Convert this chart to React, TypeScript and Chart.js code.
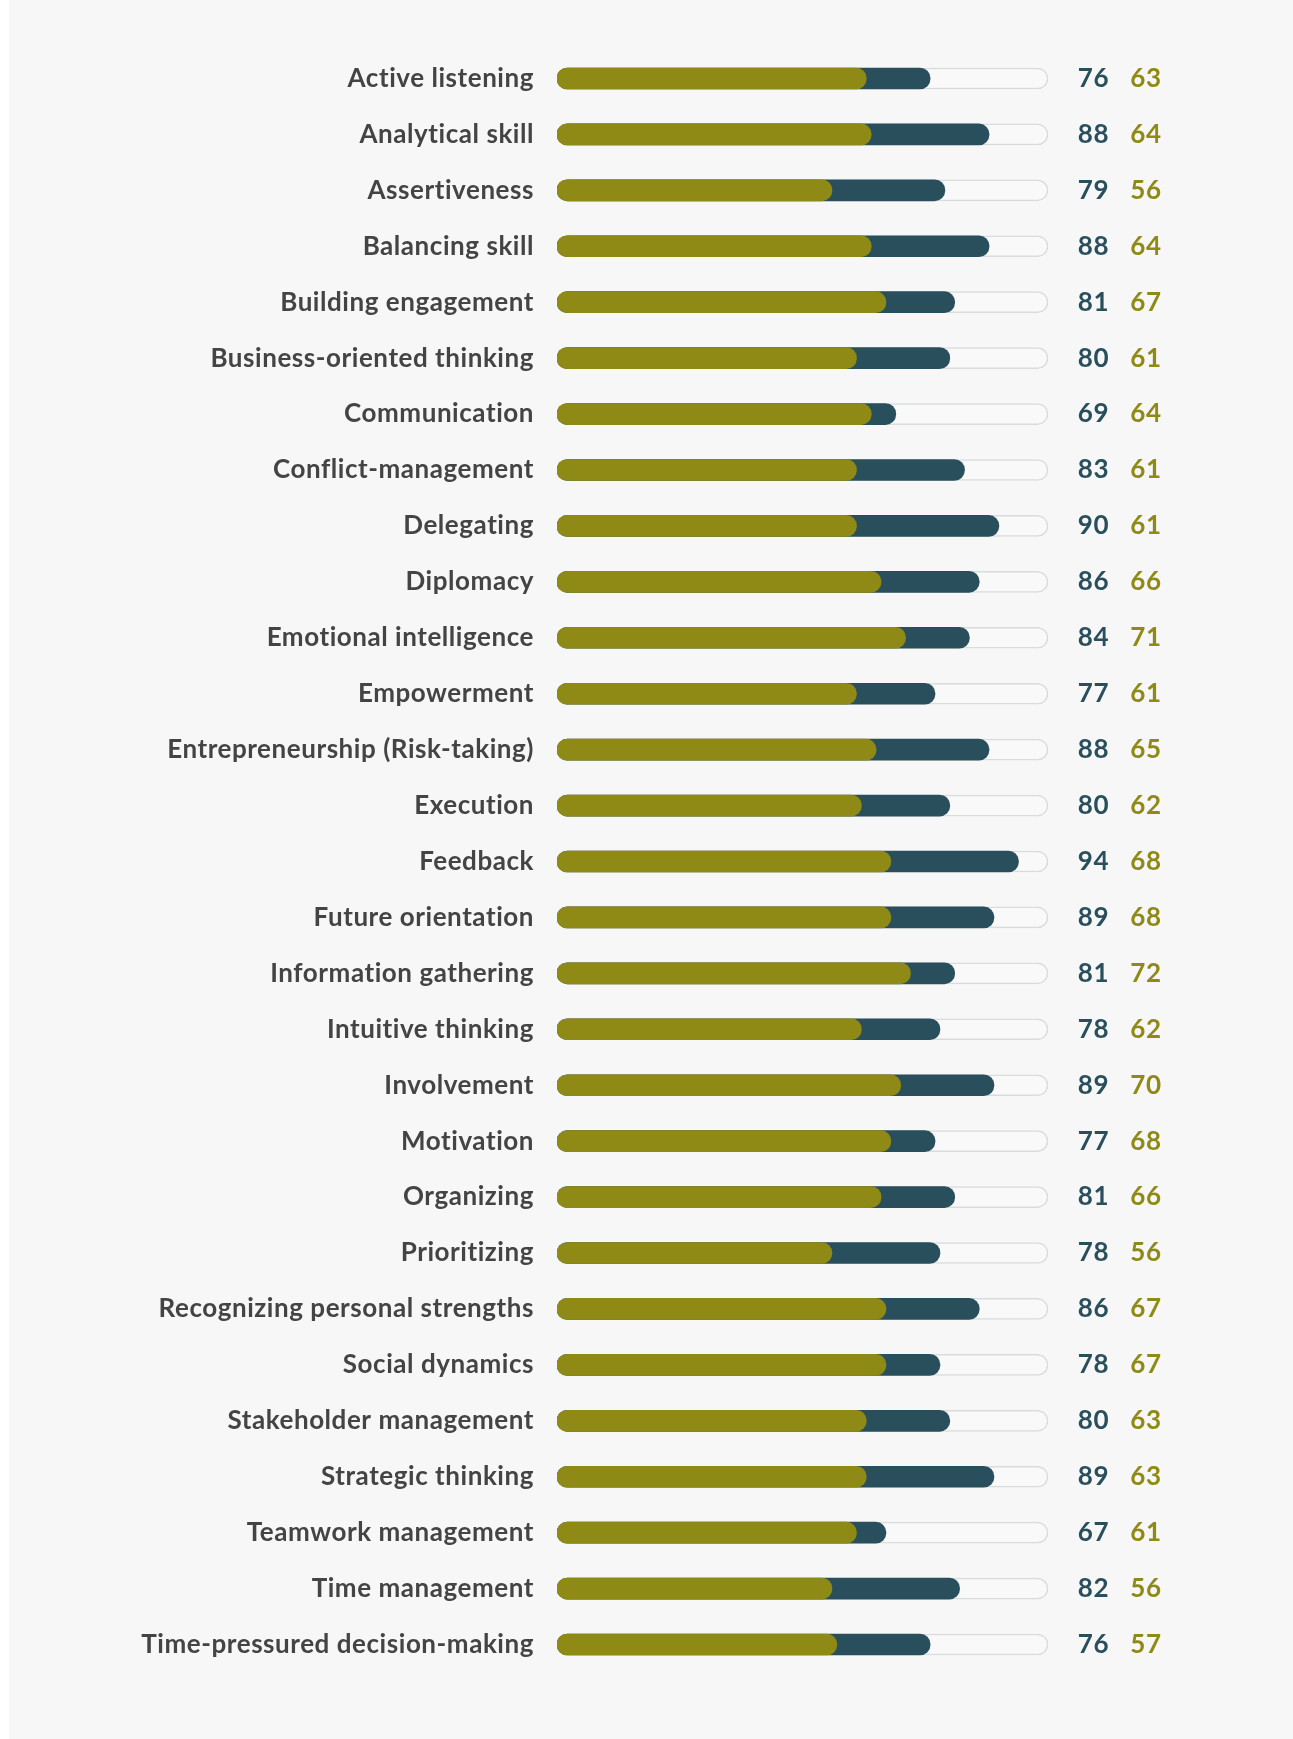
import React, { useEffect, useRef } from "react";
import { Chart, registerables } from "chart.js";

Chart.register(...registerables);

const categories: string[] = [
  "Active listening",
  "Analytical skill",
  "Assertiveness",
  "Balancing skill",
  "Building engagement",
  "Business-oriented thinking",
  "Communication",
  "Conflict-management",
  "Delegating",
  "Diplomacy",
  "Emotional intelligence",
  "Empowerment",
  "Entrepreneurship (Risk-taking)",
  "Execution",
  "Feedback",
  "Future orientation",
  "Information gathering",
  "Intuitive thinking",
  "Involvement",
  "Motivation",
  "Organizing",
  "Prioritizing",
  "Recognizing personal strengths",
  "Social dynamics",
  "Stakeholder management",
  "Strategic thinking",
  "Teamwork management",
  "Time management",
  "Time-pressured decision-making",
];

const darkValues: number[] = [
  76, 88, 79, 88, 81, 80, 69, 83, 90, 86, 84, 77, 88, 80, 94, 89, 81, 78, 89, 77, 81, 78, 86, 78, 80, 89, 67, 82, 76,
];

const greenValues: number[] = [
  63, 64, 56, 64, 67, 61, 64, 61, 61, 66, 71, 61, 65, 62, 68, 68, 72, 62, 70, 68, 66, 56, 67, 67, 63, 63, 61, 56, 57,
];

const MAX_VALUE = 100;
const trackValues: number[] = categories.map(() => MAX_VALUE);

const GREEN = "#8f8a15";
const DARK = "#2a4f5c";
const LABEL = "#444444";
const FONT = "Lato, 'Noto Sans', sans-serif";
const SPACING = "0.55px";

const letterSpacingPlugin = {
  id: "letterSpacing",
  beforeDraw(chart: any) {
    (chart.ctx as any).letterSpacing = SPACING;
  },
};

const valueLabels = {
  id: "valueLabels",
  afterDatasetsDraw(chart: any) {
    const { ctx, chartArea, scales } = chart;
    const y = scales.y;
    ctx.save();
    (ctx as any).letterSpacing = SPACING;
    ctx.font = `bold 26px ${FONT}`;
    ctx.textAlign = "center";
    ctx.textBaseline = "middle";
    categories.forEach((_, i) => {
      const py = y.getPixelForValue(i);
      ctx.fillStyle = DARK;
      ctx.fillText(String(darkValues[i]), chartArea.right + 45.5, py);
      ctx.fillStyle = GREEN;
      ctx.fillText(String(greenValues[i]), chartArea.right + 98, py);
    });
    ctx.restore();
  },
};

export default function App() {
  const ref = useRef<HTMLCanvasElement | null>(null);

  useEffect(() => {
    if (!ref.current) return;
    const chart = new Chart(ref.current, {
      type: "bar",
      data: {
        labels: categories,
        datasets: [
          {
            label: "Green",
            data: greenValues,
            backgroundColor: GREEN,
            borderRadius: 11,
            borderSkipped: false,
            barThickness: 21,
            grouped: false,
          } as any,
          {
            label: "Dark",
            data: darkValues,
            backgroundColor: DARK,
            borderRadius: 11,
            borderSkipped: false,
            barThickness: 21,
            grouped: false,
          } as any,
          {
            label: "Track",
            data: trackValues,
            backgroundColor: "#f9f9f9",
            borderColor: "#d8dcdc",
            borderWidth: 1.5,
            borderRadius: 11,
            borderSkipped: false,
            barThickness: 21,
            grouped: false,
          } as any,
        ],
      },
      options: {
        indexAxis: "y",
        animation: false,
        responsive: true,
        maintainAspectRatio: false,
        layout: { padding: { top: 50.5, bottom: 66.5, left: 0, right: 245 } },
        plugins: {
          legend: { display: false },
          tooltip: { enabled: false },
        },
        scales: {
          x: { display: false, min: 0, max: MAX_VALUE },
          y: {
            grid: { display: false, drawTicks: false },
            border: { display: false },
            ticks: {
              color: LABEL,
              padding: 23,
              font: { family: FONT, size: 26, weight: "bold" },
            },
            afterFit: (scale: any) => {
              scale.width = 548;
            },
          },
        },
      },
      plugins: [letterSpacingPlugin, valueLabels],
    });
    return () => chart.destroy();
  }, []);

  return (
    <div
      style={{
        position: "absolute",
        left: 9,
        top: 0,
        right: 0,
        height: 1739,
        background: "#f7f7f7",
      }}
    >
      <div style={{ position: "relative", width: 1284, height: 1739 }}>
        <canvas ref={ref} />
      </div>
    </div>
  );
}
